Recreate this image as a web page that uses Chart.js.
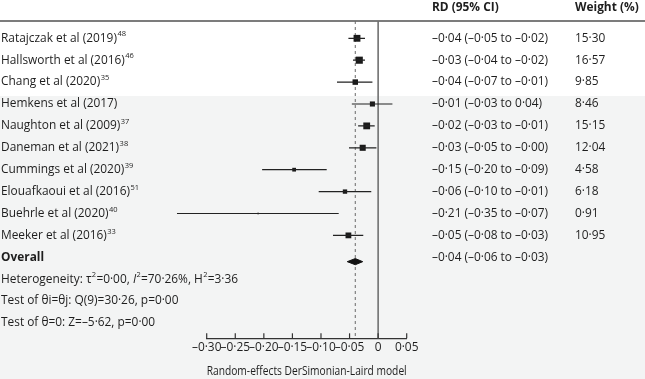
<!DOCTYPE html>
<html>
<head>
<meta charset="utf-8">
<script src="https://cdn.jsdelivr.net/npm/chart.js@4/dist/chart.umd.min.js"></script>
<style>
html,body{margin:0;padding:0;background:#fff;}
canvas{display:block;}
</style>
</head>
<body>
<canvas id="c" width="645" height="379"></canvas>
<script>
// ---- data ----
const studies = ['Ratajczak et al (2019)','Hallsworth et al (2016)','Chang et al (2020)','Hemkens et al (2017)','Naughton et al (2009)','Daneman et al (2021)','Cummings et al (2020)','Elouafkaoui et al (2016)','Buehrle et al (2020)','Meeker et al (2016)'];
const refs = ['48','46','35','','37','38','39','51','40','33'];
const estimates = [-0.037,-0.033,-0.040,-0.010,-0.020,-0.027,-0.147,-0.058,-0.210,-0.052];
const ciLow  = [-0.052,-0.044,-0.072,-0.046,-0.035,-0.051,-0.203,-0.104,-0.352,-0.079];
const ciHigh = [-0.023,-0.023,-0.010, 0.025,-0.006,-0.003,-0.090,-0.012,-0.069,-0.026];
const weights = [15.30,16.57,9.85,8.46,15.15,12.04,4.58,6.18,0.91,10.95];
const rdLabels = ['–0·04 (–0·05 to –0·02)','–0·03 (–0·04 to –0·02)','–0·04 (–0·07 to –0·01)','–0·01 (–0·03 to 0·04)','–0·02 (–0·03 to –0·01)','–0·03 (–0·05 to –0·00)','–0·15 (–0·20 to –0·09)','–0·06 (–0·10 to –0·01)','–0·21 (–0·35 to –0·07)','–0·05 (–0·08 to –0·03)'];
const weightLabels = ['15·30','16·57','9·85','8·46','15·15','12·04','4·58','6·18','0·91','10·95'];
const overallLabel = 'Overall';
const overallEstimate = -0.040;
const overallCI = [-0.054, -0.027];
const overallRD = '–0·04 (–0·06 to –0·03)';
const statLines = [
  [['Heterogeneity: τ','n'],['2','sup'],['=0·00, ','n'],['I','i'],['2','sup'],['=70·26%, H','n'],['2','sup'],['=3·36','n']],
  [['Test of θi=θj: Q(9)=30·26, p=0·00','n']],
  [['Test of θ=0: Z=–5·62, p=0·00','n']]
];
const headers = ['RD (95% CI)','Weight (%)'];
const axisTitle = 'Random-effects DerSimonian-Laird model';
const xMin = -0.30, xMax = 0.05, xStep = 0.05;

// ---- style ----
const FONT = '"Open Sans"';
const FS = 11.9;
const TXT = '#1e1e1e';
const nRows = studies.length;

function fmt(v){
  if (Math.abs(v) < 1e-9) return '0';
  return (v < 0 ? '–' : '') + Math.abs(v).toFixed(2).replace('.', '·');
}

const ciData = [];
studies.forEach((s,i)=>{
  ciData.push({x: ciLow[i], y: i});
  ciData.push({x: ciHigh[i], y: i});
  ciData.push({x: ciHigh[i], y: null});
});
const boxData = studies.map((s,i)=>({x: estimates[i], y: i}));
const dRow = nRows + 0.2, dh = 0.14;
const diamondData = [
  {x: overallCI[0], y: dRow},
  {x: overallEstimate, y: dRow - dh},
  {x: overallCI[1], y: dRow},
  {x: overallEstimate, y: dRow + dh},
  {x: overallCI[0], y: dRow}
];

const decor = {
  id: 'decor',
  beforeDraw(chart){
    const ctx = chart.ctx;
    ctx.save();
    ctx.fillStyle = '#ffffff';
    ctx.fillRect(0,0,chart.width,chart.height);
    ctx.fillStyle = '#f3f4f4';
    ctx.fillRect(0,96,chart.width,chart.height-96);
    ctx.restore();
  },
  beforeDatasetsDraw(chart){
    const ctx = chart.ctx, xs = chart.scales.x, a = chart.chartArea;
    ctx.save();
    ctx.strokeStyle = '#7c7c7c'; ctx.lineWidth = 2;
    ctx.beginPath(); ctx.moveTo(0, a.top); ctx.lineTo(chart.width, a.top); ctx.stroke();
    const x0 = xs.getPixelForValue(0);
    ctx.strokeStyle = '#707070'; ctx.lineWidth = 1.6;
    ctx.beginPath(); ctx.moveTo(x0, a.top); ctx.lineTo(x0, a.bottom); ctx.stroke();
    const xe = xs.getPixelForValue(overallEstimate);
    ctx.strokeStyle = '#6a6a6a'; ctx.lineWidth = 1; ctx.setLineDash([3,3]);
    ctx.beginPath(); ctx.moveTo(xe, a.top); ctx.lineTo(xe, a.bottom); ctx.stroke();
    ctx.setLineDash([]);
    ctx.strokeStyle = '#333'; ctx.lineWidth = 1.2;
    xs.ticks.forEach(t=>{
      const px = xs.getPixelForValue(t.value);
      ctx.beginPath(); ctx.moveTo(px, a.bottom - 5); ctx.lineTo(px, a.bottom); ctx.stroke();
    });
    ctx.restore();
  },
  afterDraw(chart){
    const ctx = chart.ctx, ys = chart.scales.y;
    const f = (st) => (st || '') + FS + 'px ' + FONT;
    const sup = '7.5px ' + FONT;
    ctx.save();
    ctx.fillStyle = TXT;
    ctx.textBaseline = 'middle';
    ctx.textAlign = 'left';
    ctx.font = f('bold ');
    ctx.fillText(headers[0], 432, 8);
    ctx.fillText(headers[1], 575, 8);
    studies.forEach((s,i)=>{
      const y = ys.getPixelForValue(i);
      ctx.font = f();
      ctx.fillText(s, 1, y);
      const w = ctx.measureText(s).width;
      if (refs[i]) {
        ctx.font = sup;
        ctx.fillText(refs[i], 1 + w + 0.5, y - 4);
      }
      ctx.font = f();
      ctx.fillText(rdLabels[i], 432, y);
      ctx.fillText(weightLabels[i], 575, y);
    });
    const yo = ys.getPixelForValue(nRows);
    ctx.font = f('bold ');
    ctx.fillText(overallLabel, 1, yo);
    ctx.font = f();
    ctx.fillText(overallRD, 432, yo);
    statLines.forEach((runs,k)=>{
      const y = ys.getPixelForValue(nRows + 1 + k);
      let x = 1;
      runs.forEach(([t,st])=>{
        if (st === 'sup') { ctx.font = sup; ctx.fillText(t, x + 0.3, y - 4); x += ctx.measureText(t).width + 0.6; }
        else { ctx.font = f(st === 'i' ? 'italic ' : ''); ctx.fillText(t, x, y); x += ctx.measureText(t).width; }
      });
    });
    ctx.restore();
  }
};

new Chart(document.getElementById('c'), {
  type: 'scatter',
  data: {
    datasets: [
      { data: ciData, showLine: true, spanGaps: false, borderColor: '#222', borderWidth: 1.2, pointRadius: 0, clip: false },
      { data: boxData, pointStyle: 'rect', backgroundColor: '#1a1a1a', borderWidth: 0,
        pointRadius: ctx => 1.75 * Math.sqrt(weights[ctx.dataIndex]) / Math.SQRT2, clip: false },
      { data: diamondData, showLine: true, borderColor: '#111', borderWidth: 1, backgroundColor: '#111', fill: 'shape', pointRadius: 0, tension: 0, clip: false }
    ]
  },
  options: {
    responsive: false,
    animation: false,
    devicePixelRatio: 1,
    layout: { padding: { left: 206.7, right: 645 - 406.7, top: 21, bottom: 0 } },
    plugins: { legend: { display: false }, tooltip: { enabled: false } },
    scales: {
      x: {
        type: 'linear', min: xMin, max: xMax,
        afterFit: s => { s.height = 40.7; },
        border: { display: true, color: '#333', width: 1.2 },
        grid: { drawOnChartArea: false, drawTicks: false },
        ticks: { stepSize: xStep, padding: 2, color: TXT, font: { family: 'Open Sans', size: FS }, callback: v => fmt(v), maxRotation: 0, autoSkip: false },
        title: { display: true, text: axisTitle, color: TXT, font: { family: 'Open Sans', size: FS }, padding: { top: 0, bottom: 0 } }
      },
      y: { type: 'linear', reverse: true, min: -0.79, max: 13.7, display: false }
    }
  },
  plugins: [decor]
});
</script>
</body>
</html>
